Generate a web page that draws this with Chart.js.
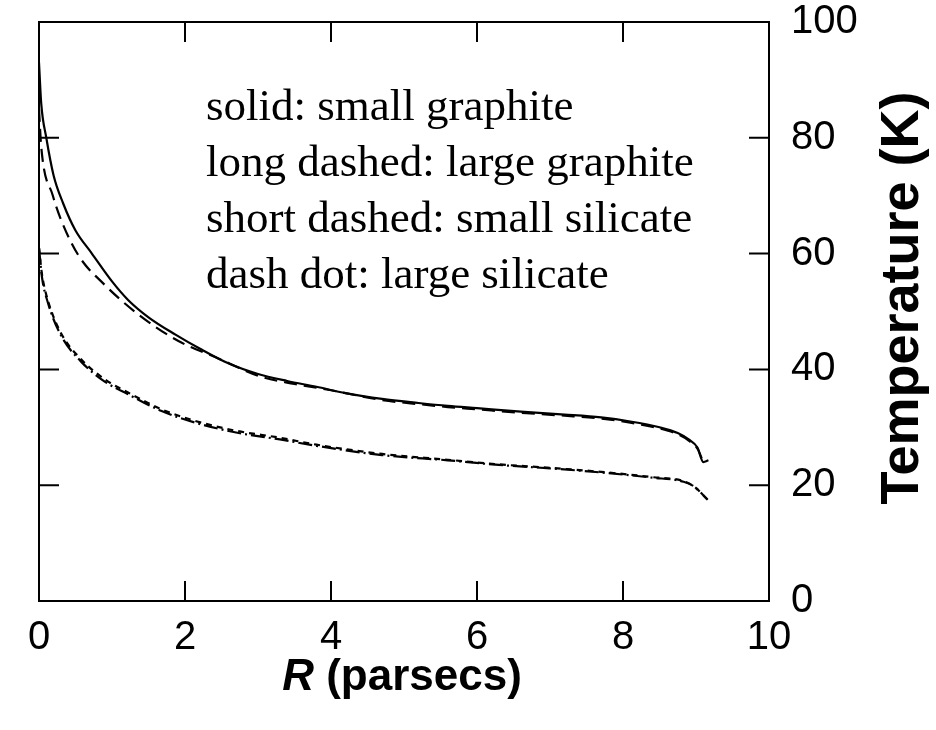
<!DOCTYPE html>
<html>
<head>
<meta charset="utf-8">
<script src="https://cdn.jsdelivr.net/npm/chart.js@4"></script>
<style>
    html, body { margin: 0; padding: 0; background: #fff; }
</style>
</head>
<body>
<canvas id="grafico" width="936" height="730"></canvas>
<script>
// raios (parsecs) e temperaturas (K)
const raioPequenoGrafite = [0, 0.03, 0.1, 0.2, 0.33, 0.5, 0.72, 1.0, 1.22, 1.5, 1.87, 2.2, 2.6, 3.0, 3.4, 3.8, 4.2, 4.7, 5.2, 5.6, 6.0, 6.6, 7.2, 7.7, 8.1, 8.5, 8.75, 8.9, 9.02, 9.1, 9.17]
const tempPequenoGrafite = [93, 86, 80, 73.5, 68.7, 64, 60.1, 55.2, 52, 49, 46, 43.6, 41, 39.2, 38, 37, 35.9, 34.9, 34.2, 33.7, 33.3, 32.7, 32.2, 31.7, 31.0, 30.0, 29.0, 27.9, 26.5, 24.0, 24.3]

const raioGrandeGrafite = [0, 0.03, 0.19, 0.3, 0.54, 0.9, 1.36, 1.91, 2.42, 3.05, 3.5, 4.0, 4.7, 5.2, 5.6, 6.0, 6.6, 7.2, 7.7, 8.1, 8.5, 8.75, 8.9, 9.02, 9.1]
const tempGrandeGrafite = [85, 78.5, 70, 65.9, 59.7, 54.6, 49.5, 44.9, 42.1, 38.7, 37.5, 36.4, 34.7, 34.0, 33.5, 33.1, 32.5, 32.0, 31.5, 30.8, 29.8, 28.8, 27.7, 26.3, 24.0]

const raioSilicato = [0, 0.04, 0.12, 0.3, 0.58, 0.9, 1.22, 1.68, 2.14, 2.7, 3.3, 3.8, 4.7, 5.6, 6.3, 7.0, 7.7, 8.4, 8.83, 8.97, 9.16]
const tempPequenoSilicato = [61, 56.5, 52, 46.3, 41.7, 38.3, 36.0, 33.1, 31.1, 29.4, 28.2, 27.0, 25.4, 24.4, 23.6, 23.0, 22.3, 21.4, 20.7, 19.8, 17.5]
const tempGrandeSilicato = [61, 56, 51.6, 45.9, 41.3, 37.9, 35.7, 32.8, 30.8, 29.1, 27.9, 26.8, 25.2, 24.3, 23.5, 22.9, 22.2, 21.3, 20.6, 19.8, 17.5]

const ticksX = [0, 2, 4, 6, 8, 10]
const ticksY = [0, 20, 40, 60, 80, 100]

const legendaTexto = [
    'solid: small graphite',
    'long dashed: large graphite',
    'short dashed: small silicate',
    'dash dot: large silicate'
]

function pontos(xs, ys) {
    var lista = []
    for (let i = 0; i < xs.length; i++) {
        lista.push({ x: xs[i], y: ys[i] })
    }
    return lista
}

function serie(xs, ys, tracejado) {
    return {
        data: pontos(xs, ys),
        showLine: true,
        borderColor: '#000',
        borderWidth: 2.2,
        borderDash: tracejado,
        pointRadius: 0,
        cubicInterpolationMode: 'monotone',
        fill: false
    }
}

// moldura, marcas internas, legenda em texto e titulos dos eixos
const moldura = {
    id: 'moldura',
    afterDraw(chart) {
        const ctx = chart.ctx
        const a = chart.chartArea
        const sx = chart.scales.x
        const sy = chart.scales.y
        const tam = 20

        ctx.save()
        ctx.strokeStyle = '#000'
        ctx.lineWidth = 2
        ctx.strokeRect(a.left, a.top, a.right - a.left, a.bottom - a.top)

        ctx.beginPath()
        for (let i = 1; i < ticksX.length - 1; i++) {
            let px = sx.getPixelForValue(ticksX[i])
            ctx.moveTo(px, a.bottom)
            ctx.lineTo(px, a.bottom - tam)
            ctx.moveTo(px, a.top)
            ctx.lineTo(px, a.top + tam)
        }
        for (let i = 1; i < ticksY.length - 1; i++) {
            let py = sy.getPixelForValue(ticksY[i])
            ctx.moveTo(a.left, py)
            ctx.lineTo(a.left + tam, py)
            ctx.moveTo(a.right, py)
            ctx.lineTo(a.right - tam, py)
        }
        ctx.stroke()

        ctx.fillStyle = '#000'
        ctx.font = '45px "Liberation Serif", "Times New Roman", serif'
        ctx.textBaseline = 'alphabetic'
        ctx.textAlign = 'left'
        for (let i = 0; i < legendaTexto.length; i++) {
            ctx.fillText(legendaTexto[i], 206, 120 + i * 56)
        }

        // titulo do eixo x: R em italico
        const fonteR = 'italic bold 44px "Liberation Sans", Arial, sans-serif'
        const fonteResto = 'bold 44px "Liberation Sans", Arial, sans-serif'
        ctx.font = fonteR
        let wR = ctx.measureText('R').width
        ctx.font = fonteResto
        let wResto = ctx.measureText(' (parsecs)').width
        let x0 = 402 - (wR + wResto) / 2
        ctx.font = fonteR
        ctx.fillText('R', x0, 690)
        ctx.font = fonteResto
        ctx.fillText(' (parsecs)', x0 + wR, 690)

        // titulo do eixo y, lido de baixo para cima
        ctx.translate(903, 298)
        ctx.rotate(-Math.PI / 2)
        ctx.textAlign = 'center'
        ctx.textBaseline = 'middle'
        ctx.font = 'bold 54px "Liberation Sans", Arial, sans-serif'
        ctx.fillText('Temperature (K)', 0, 0)
        ctx.restore()
    }
}

const ctxGrafico = document.getElementById('grafico')

var graficoTemperatura = new Chart(ctxGrafico, {
    type: 'scatter',
    data: {
        datasets: [
            serie(raioPequenoGrafite, tempPequenoGrafite, []),
            serie(raioGrandeGrafite, tempGrandeGrafite, [13, 7]),
            serie(raioSilicato, tempPequenoSilicato, [6, 5]),
            serie(raioSilicato, tempGrandeSilicato, [14, 4, 2, 4])
        ]
    },
    options: {
        responsive: false,
        animation: false,
        layout: {
            padding: { left: 39, top: 22, right: 0, bottom: 0 }
        },
        scales: {
            x: {
                type: 'linear',
                min: 0,
                max: 10,
                afterBuildTicks: function (s) {
                    s.ticks = ticksX.map(v => ({ value: v }))
                },
                afterFit: function (s) {
                    s.height = 730 - 601
                    s.paddingLeft = 0
                    s.paddingRight = 0
                },
                ticks: {
                    padding: 5,
                    color: '#000',
                    font: { family: '"Liberation Sans", Arial, sans-serif', size: 40 }
                },
                grid: { display: false },
                border: { display: false }
            },
            y: {
                type: 'linear',
                position: 'right',
                min: 0,
                max: 100,
                afterBuildTicks: function (s) {
                    s.ticks = ticksY.map(v => ({ value: v }))
                },
                afterFit: function (s) {
                    s.width = 936 - 769
                    s.paddingTop = 0
                    s.paddingBottom = 0
                },
                ticks: {
                    padding: 14,
                    color: '#000',
                    font: { family: '"Liberation Sans", Arial, sans-serif', size: 40 }
                },
                grid: { display: false },
                border: { display: false }
            }
        },
        plugins: {
            legend: { display: false },
            tooltip: { enabled: false }
        }
    },
    plugins: [moldura]
});
</script>
</body>
</html>
